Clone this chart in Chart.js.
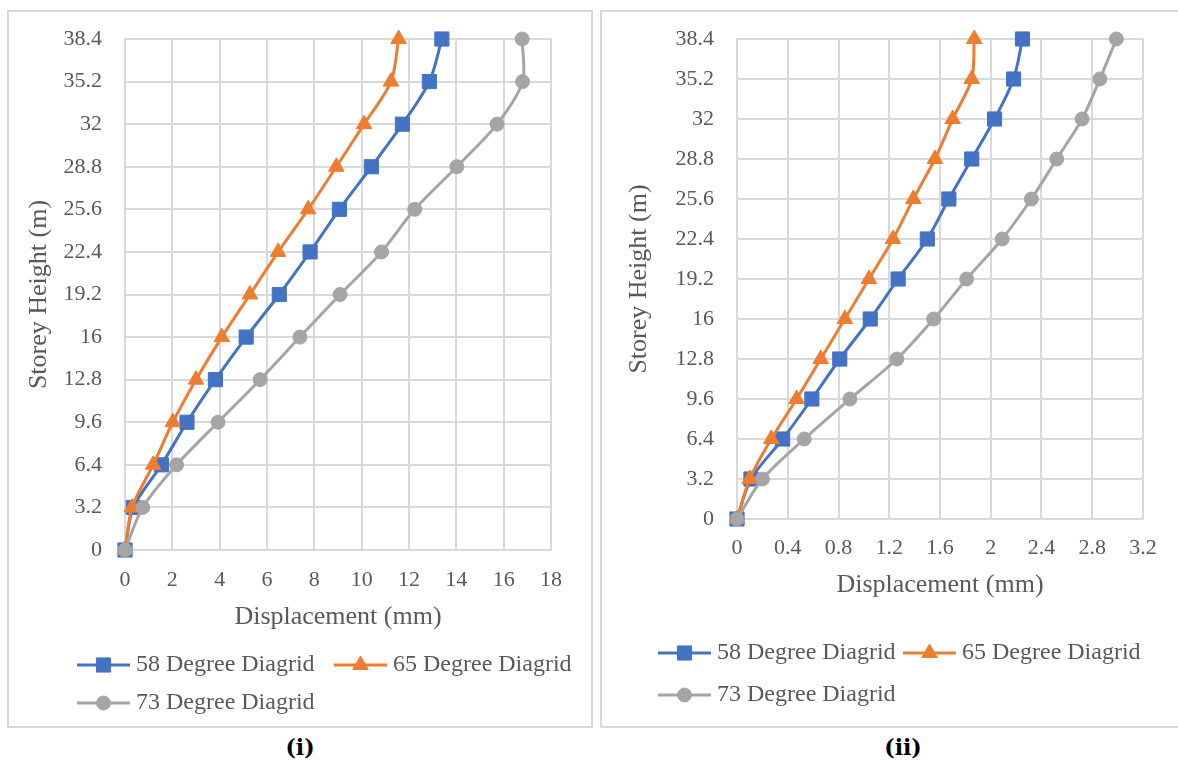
<!DOCTYPE html>
<html>
<head>
<meta charset="utf-8">
<script src="https://cdn.jsdelivr.net/npm/chart.js@4.4.1/dist/chart.umd.min.js"></script>
<style>
  html, body { margin: 0; padding: 0; background: #fff; }
  body { width: 1178px; height: 761px; position: relative; overflow: hidden; }
  .box { position: absolute; border: 2px solid #d9d9d9; background: #fff; }
  .box canvas { position: absolute; left: 0; top: 0; }
  .cap { position: absolute; font: bold 22px "DejaVu Serif"; color: #000; transform: translateX(-50%); }
</style>
</head>
<body>
<div class="box" style="left:7px; top:10px; width:582px; height:714px;">
  <canvas id="chart1" width="582" height="714"></canvas>
</div>
<div class="box" style="left:600px; top:10px; width:620px; height:714px;">
  <canvas id="chart2" width="576" height="714"></canvas>
</div>
<div class="cap" style="left:300px; top:734px;">(i)</div>
<div class="cap" style="left:903px; top:734px;">(ii)</div>

<script>
// storey heights (m), shared by both panels
const heights = [0, 3.2, 6.4, 9.6, 12.8, 16, 19.2, 22.4, 25.6, 28.8, 32, 35.2, 38.4];
const seriesNames = ['58 Degree Diagrid', '65 Degree Diagrid', '73 Degree Diagrid'];

// panel (i) displacements (mm)
const disp58a = [0, 0.35, 1.54, 2.62, 3.82, 5.12, 6.52, 7.82, 9.06, 10.41, 11.72, 12.86, 13.39];
const disp65a = [0, 0.30, 1.19, 2.02, 3.00, 4.09, 5.28, 6.47, 7.74, 8.93, 10.10, 11.24, 11.56];
const disp73a = [0, 0.75, 2.18, 3.93, 5.71, 7.39, 9.09, 10.84, 12.24, 14.02, 15.72, 16.80, 16.78];

// panel (ii) displacements (mm)
const disp58b = [0, 0.11, 0.36, 0.59, 0.81, 1.05, 1.27, 1.50, 1.67, 1.85, 2.03, 2.18, 2.25];
const disp65b = [0, 0.10, 0.27, 0.47, 0.66, 0.85, 1.04, 1.23, 1.39, 1.56, 1.70, 1.85, 1.87];
const disp73b = [0, 0.20, 0.53, 0.89, 1.26, 1.55, 1.81, 2.09, 2.32, 2.52, 2.72, 2.86, 2.99];

// tick labels
const yTicks = [0, 3.2, 6.4, 9.6, 12.8, 16, 19.2, 22.4, 25.6, 28.8, 32, 35.2, 38.4];
const xTicksA = [0, 2, 4, 6, 8, 10, 12, 14, 16, 18];
const xTicksB = [0, 0.4, 0.8, 1.2, 1.6, 2, 2.4, 2.8, 3.2];

const textColor = '#595959';
const gridColor = '#d9d9d9';
const serif = 'Liberation Serif';

// legend drawn like excel: line with marker in the middle
const lineLegend = {
  id: 'lineLegend',
  afterDraw(chart, args, opts) {
    const ctx = chart.ctx;
    ctx.save();
    ctx.font = '24px "' + serif + '"';
    ctx.textBaseline = 'middle';
    opts.items.forEach((pos, i) => {
      const ds = chart.data.datasets[i];
      const x = pos[0], y = pos[1];
      ctx.strokeStyle = ds.borderColor;
      ctx.fillStyle = ds.backgroundColor;
      ctx.lineWidth = 3;
      ctx.beginPath();
      ctx.moveTo(x, y);
      ctx.lineTo(x + 53, y);
      ctx.stroke();
      ctx.lineWidth = 1;
      Chart.helpers.drawPoint(ctx, {pointStyle: ds.pointStyle, radius: ds.pointRadius, borderWidth: 1, rotation: 0}, x + 26.5, y);
      ctx.fillStyle = textColor;
      ctx.fillText(ds.label, x + 59, y);
    });
    ctx.restore();
  }
};

function makeSet(label, xs, color, style, radius, order) {
  return {
    label: label,
    data: xs.map((v, i) => ({x: v, y: heights[i]})),
    borderColor: color,
    backgroundColor: color,
    pointStyle: style,
    pointRadius: radius,
    pointHoverRadius: radius,
    pointBorderWidth: 1,
    borderWidth: 3,
    tension: 0.3,
    showLine: true,
    clip: false,
    order: order
  };
}

function makeChart(id, sets, xTicks, xMax, box) {
  return new Chart(document.getElementById(id), {
    type: 'scatter',
    data: {
      datasets: [
        makeSet(seriesNames[0], sets[0], '#4472c4', 'rect', 10, 2),
        makeSet(seriesNames[1], sets[1], '#ed7d31', 'triangle', 9, 1),
        makeSet(seriesNames[2], sets[2], '#a5a5a5', 'circle', 7, 0)
      ]
    },
    options: {
      responsive: false,
      animation: false,
      layout: { padding: { left: 0, top: box.top, right: box.right, bottom: box.bottom } },
      scales: {
        x: {
          type: 'linear',
          min: 0,
          max: xMax,
          afterBuildTicks: s => { s.ticks = xTicks.map(v => ({value: v})); },
          afterFit: s => { s.height = box.xHeight; },
          grid: { color: gridColor, lineWidth: 2, drawTicks: false },
          border: { color: gridColor, width: 2 },
          ticks: { color: textColor, font: { family: serif, size: 22 }, padding: box.xPad, maxRotation: 0, callback: v => String(v) },
          title: { display: true, text: 'Displacement (mm)', color: textColor, font: { family: serif, size: 26 }, padding: 0 }
        },
        y: {
          type: 'linear',
          min: 0,
          max: 38.4,
          afterBuildTicks: s => { s.ticks = yTicks.map(v => ({value: v})); },
          afterFit: s => { s.width = box.yWidth; },
          // invisible tick marks give the label gap without padding the top of the axis
          grid: { color: gridColor, lineWidth: 2, drawTicks: true, tickLength: 20, tickColor: 'rgba(0,0,0,0)' },
          border: { color: gridColor, width: 2 },
          ticks: { color: textColor, font: { family: serif, size: 22 }, padding: 3, callback: v => String(v) },
          title: { display: true, text: 'Storey Height (m)', color: textColor, font: { family: serif, size: 26 }, padding: { top: box.yTitle, bottom: 0 } }
        }
      },
      plugins: {
        legend: { display: false },
        tooltip: { enabled: false },
        lineLegend: { items: box.legend }
      }
    },
    plugins: [lineLegend]
  });
}

makeChart('chart1', [disp58a, disp65a, disp73a], xTicksA, 18, {
  top: 27, right: 40, bottom: 93, xHeight: 83, yWidth: 116, xPad: 17, yTitle: 15,
  legend: [[68, 653], [325, 653], [68, 691]]
});

makeChart('chart2', [disp58b, disp65b, disp73b], xTicksB, 3.2, {
  top: 27, right: 35, bottom: 125, xHeight: 82, yWidth: 135, xPad: 16, yTitle: 22,
  legend: [[56, 641], [301, 641], [56, 683]]
});
</script>
</body>
</html>
